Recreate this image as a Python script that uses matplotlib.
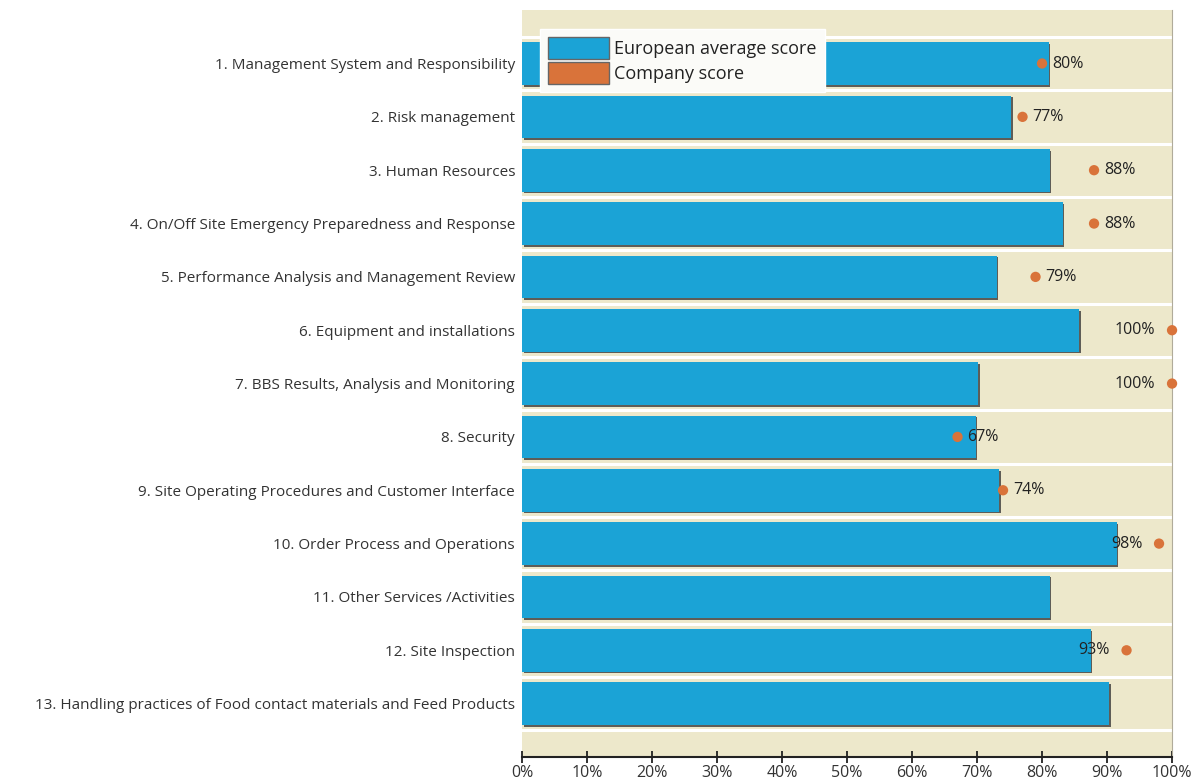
import matplotlib
matplotlib.use("Agg")
import matplotlib.pyplot as plt
import matplotlib.patheffects as pe
from matplotlib.patches import Patch
import numpy as np

categories = [
    "1. Management System and Responsibility",
    "2. Risk management",
    "3. Human Resources",
    "4. On/Off Site Emergency Preparedness and Response",
    "5. Performance Analysis and Management Review",
    "6. Equipment and installations",
    "7. BBS Results, Analysis and Monitoring",
    "8. Security",
    "9. Site Operating Procedures and Customer Interface",
    "10. Order Process and Operations",
    "11. Other Services /Activities",
    "12. Site Inspection",
    "13. Handling practices of Food contact materials and Feed Products",
]
european_avg = [81, 75.3, 81.2, 83.2, 73, 85.7, 70.2, 69.8, 73.4, 91.5, 81.2, 87.5, 90.3]
company = [80, 77, 88, 88, 79, 100, 100, 67, 74, 98, None, 93, None]
xticks = [0, 10, 20, 30, 40, 50, 60, 70, 80, 90, 100]

plt.rcParams['font.family'] = ['Open Sans', 'DejaVu Sans']

BLUE = '#1ba3d6'
ORANGE = '#d9733a'
BG = '#ede8cb'

fig = plt.figure(figsize=(12, 7.82), dpi=100)
ax = fig.add_axes([0.435, 0.032, 0.5417, 0.955])
ax.set_facecolor(BG)

y = np.arange(len(categories))
bars = ax.barh(y, european_avg, height=0.8, color=BLUE, zorder=3,
               label='European average score')
for b in bars:
    b.set_path_effects([pe.SimplePatchShadow(offset=(1.2, -1.2), shadow_rgbFace='#3a3a3a', alpha=0.8),
                        pe.Normal()])

for i, v in enumerate(company):
    if v is None:
        continue
    ax.scatter([v], [i], s=55, color=ORANGE, zorder=5, clip_on=False, edgecolors='none')
    if v >= 93:
        ax.annotate(f"{v:.0f}%", (v, i), xytext=(-12, 0), textcoords='offset points',
                    ha='right', va='center', fontsize=11.5, color='#222222', zorder=6)
    else:
        ax.annotate(f"{v:.0f}%", (v, i), xytext=(7, 0), textcoords='offset points',
                    ha='left', va='center', fontsize=11.5, color='#222222', zorder=6)

# white row separators
for yy in np.arange(-0.5, len(categories), 1.0):
    ax.axhline(yy, color='white', lw=2.2, zorder=1)

ax.set_ylim(len(categories), -1)
ax.set_xlim(0, 100)
ax.set_yticks(y)
ax.set_yticklabels(categories, fontsize=11, color='#333333')
ax.tick_params(axis='y', length=0, pad=5)
ax.set_xticks(xticks)
ax.set_xticklabels([f"{t}%" for t in xticks], fontsize=11.5, color='#333333')
ax.tick_params(axis='x', direction='inout', length=9, width=1.3, color='#222222', pad=1)

for s in ['top', 'left']:
    ax.spines[s].set_visible(False)
ax.spines['right'].set_color('#b0ab9a')
ax.spines['right'].set_linewidth(0.8)
ax.spines['bottom'].set_color('#222222')
ax.spines['bottom'].set_linewidth(1.5)

handles = [Patch(facecolor=BLUE, edgecolor='#666666', label='European average score'),
           Patch(facecolor=ORANGE, edgecolor='#666666', label='Company score')]
leg = ax.legend(handles=handles, loc='upper left', bbox_to_anchor=(0.022, 0.98),
                fontsize=13, frameon=True, fancybox=False, framealpha=1,
                edgecolor='white', handlelength=3.4, handleheight=1.5,
                borderpad=0.45, labelspacing=0.15, handletextpad=0.25,
                borderaxespad=0.2)
leg.set_zorder(10)
leg.get_frame().set_facecolor('#fbfbf8')
for t in leg.get_texts():
    t.set_color('#222222')

fig.savefig('out.png', dpi=100)
